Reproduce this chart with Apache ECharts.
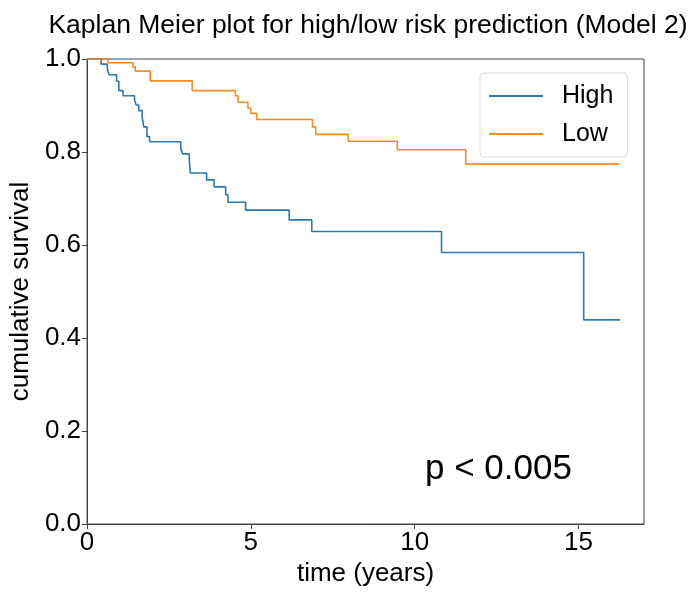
<!DOCTYPE html>
<html>
<head>
<meta charset="utf-8">
<script src="https://cdn.jsdelivr.net/npm/echarts@6/dist/echarts.min.js"></script>
<style>html,body{margin:0;padding:0;background:#fff}#c{width:693px;height:592px}</style>
</head>
<body>
<div id="c"></div>
<script>
const highTimes = [0, 0.43, 0.62, 0.67, 0.90, 0.97, 1.10, 1.45, 1.50, 1.58, 1.68, 1.73, 1.83, 1.91, 2.86, 2.92, 3.12, 3.15, 3.65, 3.88, 4.23, 4.30, 4.84, 6.17, 6.86, 10.82, 15.16, 16.27];
const highSurv  = [1.0, 0.989, 0.978, 0.966, 0.952, 0.932, 0.921, 0.912, 0.901, 0.889, 0.877, 0.854, 0.833, 0.822, 0.808, 0.796, 0.783, 0.755, 0.740, 0.725, 0.708, 0.692, 0.675, 0.654, 0.629, 0.584, 0.439, 0.439];
const lowTimes = [0, 0.64, 1.40, 1.47, 1.93, 3.21, 4.53, 4.61, 4.91, 5.00, 5.18, 6.88, 6.98, 7.97, 9.47, 11.56, 16.25];
const lowSurv  = [1.0, 0.992, 0.983, 0.974, 0.953, 0.932, 0.921, 0.907, 0.894, 0.883, 0.870, 0.854, 0.838, 0.823, 0.805, 0.774, 0.774];
const xTicks = [0, 5, 10, 15];
const yTicks = [0.0, 0.2, 0.4, 0.6, 0.8, 1.0];

const FONT = 'Liberation Sans';
const chart = echarts.init(document.getElementById('c'), null, {renderer: 'canvas'});
const pairs = (t, s) => t.map((v, i) => [v, s[i]]);
chart.setOption({
  animation: false,
  textStyle: {fontFamily: FONT},
  title: {
    text: 'Kaplan Meier plot for high/low risk prediction (Model 2)',
    left: 363, top: 7, textAlign: 'center',
    textStyle: {fontFamily: FONT, fontSize: 26.5, fontWeight: 'normal', color: '#000'}
  },
  grid: {left: 83, right: 49, top: 59, bottom: 68, show: true, borderColor: '#444', borderWidth: 1, containLabel: false},
  legend: {
    orient: 'vertical', left: 480, top: 73,
    padding: [10, 14, 10, 9],
    itemWidth: 54, itemHeight: 2, itemGap: 12,
    icon: 'rect',
    backgroundColor: '#fff', borderColor: '#d8d8d8', borderWidth: 1, borderRadius: 4,
    textStyle: {fontFamily: FONT, fontSize: 25, color: '#000', padding: [0, 0, 0, 14], lineHeight: 26},
    data: ['High', 'Low']
  },
  xAxis: {
    type: 'value', min: 0, max: 17, interval: 5,
    name: 'time (years)', nameLocation: 'middle', nameGap: 34,
    nameTextStyle: {fontFamily: FONT, fontSize: 26, color: '#000'},
    axisLine: {show: true, onZero: false, lineStyle: {color: '#444', width: 1}},
    axisTick: {show: true, length: 5, lineStyle: {color: '#444'}, customValues: xTicks},
    axisLabel: {fontFamily: FONT, fontSize: 26, color: '#000', margin: 6, customValues: xTicks},
    splitLine: {show: false}
  },
  yAxis: {
    type: 'value', min: 0, max: 1, interval: 0.2,
    name: 'cumulative survival', nameLocation: 'middle', nameGap: 48,
    nameTextStyle: {fontFamily: FONT, fontSize: 26, color: '#000'},
    axisLine: {show: true, lineStyle: {color: '#444', width: 1}},
    axisTick: {show: true, length: 5, lineStyle: {color: '#444'}},
    axisLabel: {fontFamily: FONT, fontSize: 26, color: '#000', margin: 6, formatter: v => v.toFixed(1)},
    splitLine: {show: false}
  },
  series: [
    {name: 'High', type: 'line', step: 'end', symbol: 'none', data: pairs(highTimes, highSurv),
     lineStyle: {color: '#2a78b0', width: 1.6}, itemStyle: {color: '#2a78b0'}},
    {name: 'Low', type: 'line', step: 'end', symbol: 'none', data: pairs(lowTimes, lowSurv),
     lineStyle: {color: '#f58a1f', width: 1.6}, itemStyle: {color: '#f58a1f'}}
  ],
  graphic: [{
    type: 'text', left: 425, top: 452,
    style: {text: 'p < 0.005', fontFamily: FONT, fontSize: 35, fill: '#000'}
  }]
});
</script>
</body>
</html>
